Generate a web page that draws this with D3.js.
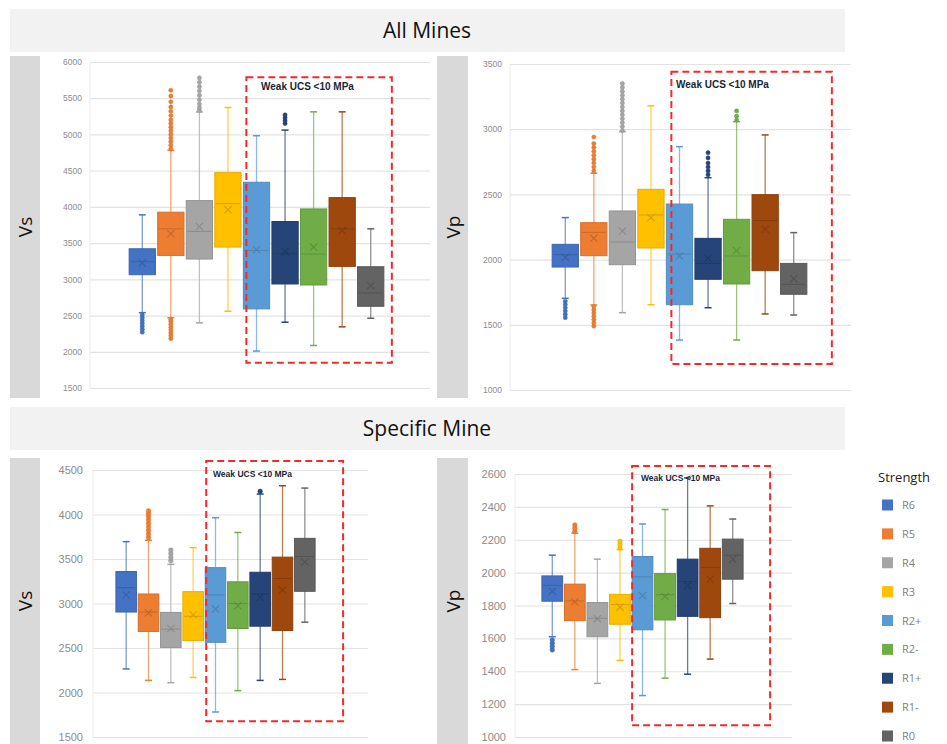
<!DOCTYPE html>
<html>
<head>
<meta charset="utf-8">
<script src="https://cdn.jsdelivr.net/npm/d3@7"></script>
<style>
  body { margin: 0; background: #fff; }
  svg { display: block; font-family: "Open Sans", "Noto Sans", sans-serif; }
</style>
</head>
<body>
<svg id="chart"></svg>
<script>
// categories (order differs between the two groups of panels)
const categoriesAll = ["R6", "R5", "R4", "R3", "R2+", "R1+", "R2-", "R1-", "R0"];
const categoriesSpecific = ["R6", "R5", "R4", "R3", "R2+", "R2-", "R1+", "R1-", "R0"];
const legendOrder = ["R6", "R5", "R4", "R3", "R2+", "R2-", "R1+", "R1-", "R0"];

const seriesColors = ["#4472C4", "#ED7D31", "#A5A5A5", "#FFC000", "#5B9BD5", "#70AD47", "#264478", "#9E480E", "#636363"];

// stats per category: [lower whisker, Q1, median, Q3, upper whisker, mean]
const allVs = [
  [2540, 3064, 3243, 3422, 3890, 3225],
  [2470, 3330, 3697, 3927, 4780, 3628],
  [2400, 3280, 3661, 4087, 5310, 3729],
  [2560, 3445, 4046, 4473, 5372, 3959],
  [2010, 2592, 3400, 4340, 4982, 3408],
  [2408, 2936, 3353, 3798, 5060, 3385],
  [2087, 2922, 3349, 3972, 5312, 3445],
  [2344, 3179, 3697, 4128, 5312, 3674],
  [2463, 2628, 2812, 3174, 3697, 2913]
];
const allVsOutliers = [
  [2270, 2310, 2350, 2390, 2430, 2470, 2510],
  [2180, 2220, 2260, 2300, 2340, 2380, 2420, 2450, 4800, 4850, 4900, 4950, 5000, 5050, 5100, 5150, 5200, 5260, 5320, 5380, 5450, 5530, 5610],
  [5330, 5370, 5420, 5480, 5540, 5600, 5660, 5720, 5780],
  [], [], [5150, 5190, 5230, 5270], [], [], []
];

const allVp = [
  [1703, 1943, 2038, 2117, 2322, 2017],
  [1652, 2030, 2209, 2283, 2662, 2163],
  [1593, 1961, 2135, 2373, 2981, 2219],
  [1654, 2089, 2342, 2539, 3180, 2322],
  [1383, 1654, 2043, 2426, 2866, 2028],
  [1631, 1849, 1971, 2163, 2628, 2010],
  [1383, 1813, 2028, 2309, 3058, 2069],
  [1583, 1915, 2299, 2498, 2956, 2232],
  [1575, 1734, 1810, 1971, 2207, 1854]
];
const allVpOutliers = [
  [1555, 1580, 1605, 1630, 1655, 1680],
  [1490, 1515, 1540, 1565, 1590, 1615, 1640, 2680, 2710, 2740, 2770, 2800, 2830, 2860, 2890, 2940],
  [2990, 3020, 3050, 3080, 3110, 3140, 3170, 3200, 3230, 3260, 3290, 3320, 3350],
  [], [], [2650, 2680, 2710, 2740, 2780, 2820], [3070, 3100, 3140], [], []
];

const specVs = [
  [2265, 2904, 3178, 3359, 3695, 3096],
  [2136, 2686, 2904, 3107, 3710, 2895],
  [2110, 2505, 2712, 2900, 3440, 2719],
  [2169, 2583, 2856, 3133, 3628, 2875],
  [1781, 2564, 3096, 3403, 3964, 2937],
  [2021, 2719, 3000, 3244, 3798, 2974],
  [2136, 2745, 3107, 3351, 4230, 3067],
  [2147, 2697, 3281, 3521, 4323, 3152],
  [2790, 3137, 3528, 3732, 4297, 3466]
];
const specVsOutliers = [
  [], [3740, 3780, 3820, 3860, 3900, 3940, 3980, 4010, 4040], [3480, 3520, 3560, 3600],
  [], [], [], [4260], [], []
];

const specVp = [
  [1610, 1826, 1922, 1980, 2106, 1886],
  [1410, 1708, 1828, 1930, 2240, 1822],
  [1326, 1610, 1722, 1818, 2082, 1720],
  [1466, 1686, 1806, 1868, 2140, 1790],
  [1252, 1652, 1974, 2098, 2296, 1860],
  [1358, 1712, 1866, 1994, 2384, 1854],
  [1382, 1734, 1946, 2082, 2576, 1920],
  [1474, 1726, 2032, 2148, 2406, 1960],
  [1812, 1960, 2106, 2204, 2326, 2082]
];
const specVpOutliers = [
  [1530, 1550, 1570, 1590], [2250, 2270, 2290], [], [2150, 2170, 2190],
  [], [], [], [], []
];

// tick labels
const ticksAllVs = [1500, 2000, 2500, 3000, 3500, 4000, 4500, 5000, 5500, 6000];
const ticksAllVp = [1000, 1500, 2000, 2500, 3000, 3500];
const ticksSpecVs = [1500, 2000, 2500, 3000, 3500, 4000, 4500];
const ticksSpecVp = [1000, 1200, 1400, 1600, 1800, 2000, 2200, 2400, 2600];

const width = 947;
const height = 744;

const color = d3.scaleOrdinal(legendOrder, seriesColors);

const svg = d3.select("#chart")
  .attr("width", width)
  .attr("height", height)
  .attr("viewBox", [0, 0, width, height]);

// section banners
function banner(y, label) {
  svg.append("rect")
    .attr("x", 10).attr("y", y)
    .attr("width", 835).attr("height", 43)
    .attr("fill", "#f2f2f2");
  svg.append("text")
    .attr("x", 427).attr("y", y + 29)
    .attr("text-anchor", "middle")
    .attr("font-size", "21px")
    .attr("fill", "#111")
    .text(label);
}
banner(9, "All Mines");
banner(407, "Specific Mine");

// panel layout
const panels = [
  { cats: categoriesAll, stats: allVs, outliers: allVsOutliers, ticks: ticksAllVs, title: "Vs",
    strip: [10, 56, 30, 342], plotX: [90, 430], plotY: [388, 62], band: [128, 385],
    tickSize: 8.5, tickX: 82, r: 2.1,
    weak: { top: 5790, bottom: 1850, padL: 3, padR: 8, labelX: 261, labelY: 90, fs: 10 } },
  { cats: categoriesAll, stats: allVp, outliers: allVpOutliers, ticks: ticksAllVp, title: "Vp",
    strip: [437, 56, 31, 342], plotX: [510, 851], plotY: [390, 64], band: [551, 808],
    tickSize: 8.5, tickX: 502, r: 2.1,
    weak: { top: 3440, bottom: 1200, padL: 5, padR: 25, labelX: 676, labelY: 88, fs: 10 } },
  { cats: categoriesSpecific, stats: specVs, outliers: specVsOutliers, ticks: ticksSpecVs, title: "Vs",
    strip: [10, 458, 30, 286], plotX: [93, 368], plotY: [737, 470], band: [115, 316],
    tickSize: 11, tickX: 83, r: 2.3,
    weak: { top: 4600, bottom: 1678, padL: 1, padR: 28, labelX: 213, labelY: 477, fs: 8.5 } },
  { cats: categoriesSpecific, stats: specVp, outliers: specVpOutliers, ticks: ticksSpecVp, title: "Vp",
    strip: [437, 458, 31, 286], plotX: [515, 792], plotY: [737, 474], band: [541, 744],
    tickSize: 11, tickX: 506, r: 2.3,
    weak: { top: 2648, bottom: 1072, padL: 0, padR: 27, labelX: 641, labelY: 481, fs: 8.5 } }
];

function drawPanel(p) {
  const g = svg.append("g");

  // grey title strip
  const [sx, sy, sw, sh] = p.strip;
  g.append("rect")
    .attr("x", sx).attr("y", sy).attr("width", sw).attr("height", sh)
    .attr("fill", "#d9d9d9");
  g.append("text")
    .attr("transform", `translate(${sx + sw / 2 + 7},${sy + sh / 2}) rotate(-90)`)
    .attr("text-anchor", "middle")
    .attr("font-size", "19px")
    .attr("fill", "#111")
    .text(p.title);

  const y = d3.scaleLinear(d3.extent(p.ticks), p.plotY);
  const x = d3.scaleBand(p.cats, p.band).paddingInner(0.08).paddingOuter(0.04);

  // gridlines + labels
  g.append("g")
    .attr("transform", `translate(${p.plotX[0]},0)`)
    .call(d3.axisLeft(y).tickValues(p.ticks).tickFormat(d3.format("d"))
      .tickSize(0).tickPadding(p.plotX[0] - p.tickX))
    .call(a => a.select(".domain").remove())
    .call(a => a.selectAll(".tick text")
      .attr("font-family", "'Liberation Sans', Arial, sans-serif")
      .attr("font-size", p.tickSize + "px")
      .attr("fill", "#8c8c8c"))
    .call(a => a.selectAll(".tick").append("line")
      .attr("x2", p.plotX[1] - p.plotX[0])
      .attr("stroke", "#e3e3e3")
      .attr("stroke-width", 1.2));
  g.append("line")
    .attr("x1", p.plotX[0]).attr("x2", p.plotX[0])
    .attr("y1", p.plotY[1]).attr("y2", p.plotY[0])
    .attr("stroke", "#ececec");

  const bw = x.bandwidth();
  p.cats.forEach((cat, i) => {
    const [lo, q1, med, q3, hi, mean] = p.stats[i];
    const c = color(cat);
    const dark = d3.color(c).darker(0.7);
    const cx = x(cat) + bw / 2;
    const box = g.append("g");

    // whisker line + caps
    box.append("line")
      .attr("x1", cx).attr("x2", cx)
      .attr("y1", y(lo)).attr("y2", y(hi))
      .attr("stroke", c).attr("stroke-opacity", 0.7).attr("stroke-width", 1.3);
    [lo, hi].forEach(v => {
      box.append("line")
        .attr("x1", cx - 3.5).attr("x2", cx + 3.5)
        .attr("y1", y(v)).attr("y2", y(v))
        .attr("stroke", c).attr("stroke-width", 1.5);
    });

    // box
    box.append("rect")
      .attr("x", x(cat)).attr("width", bw)
      .attr("y", y(q3)).attr("height", y(q1) - y(q3))
      .attr("fill", c)
      .attr("stroke", d3.color(c).darker(0.3))
      .attr("stroke-width", 1);

    // median
    box.append("line")
      .attr("x1", x(cat) + 1).attr("x2", x(cat) + bw - 1)
      .attr("y1", y(med)).attr("y2", y(med))
      .attr("stroke", dark).attr("stroke-opacity", 0.7).attr("stroke-width", 1);

    // mean marker
    const m = 3.6, my = y(mean);
    box.append("path")
      .attr("d", `M${cx - m},${my - m}L${cx + m},${my + m}M${cx - m},${my + m}L${cx + m},${my - m}`)
      .attr("stroke", dark).attr("stroke-opacity", 0.75).attr("stroke-width", 1.1)
      .attr("fill", "none");

    // outliers
    box.selectAll("circle")
      .data(p.outliers[i])
      .join("circle")
      .attr("cx", cx)
      .attr("cy", d => y(d))
      .attr("r", p.r)
      .attr("fill", c)
      .attr("stroke", d3.color(c).darker(0.3))
      .attr("stroke-width", 0.5);
  });

  // weak rock annotation
  const w = p.weak;
  const left = x(p.cats[4]) + w.padL;
  const right = x(p.cats[8]) + bw + w.padR;
  g.append("rect")
    .attr("x", left).attr("y", y(w.top))
    .attr("width", right - left).attr("height", y(w.bottom) - y(w.top))
    .attr("fill", "none")
    .attr("stroke", "#f42a2a")
    .attr("stroke-width", 2)
    .attr("stroke-dasharray", "7,4");
  g.append("text")
    .attr("x", w.labelX).attr("y", w.labelY)
    .attr("font-family", "'Liberation Sans', Arial, sans-serif")
    .attr("font-size", w.fs + "px")
    .attr("font-weight", "bold")
    .attr("fill", "#1b2536")
    .text("Weak UCS <10 MPa");
}

panels.forEach(drawPanel);

// legend
const legend = svg.append("g");
legend.append("text")
  .attr("x", 878).attr("y", 482)
  .attr("font-size", "13px")
  .attr("fill", "#222")
  .text("Strength");

const ly = d3.scalePoint(legendOrder, [505, 736]);
legendOrder.forEach(cat => {
  legend.append("rect")
    .attr("x", 882).attr("y", ly(cat) - 5.5)
    .attr("width", 11).attr("height", 11)
    .attr("fill", color(cat));
  legend.append("text")
    .attr("x", 902).attr("y", ly(cat) + 4)
    .attr("font-size", "11px")
    .attr("fill", "#7f7f7f")
    .text(cat);
});
</script>
</body>
</html>
